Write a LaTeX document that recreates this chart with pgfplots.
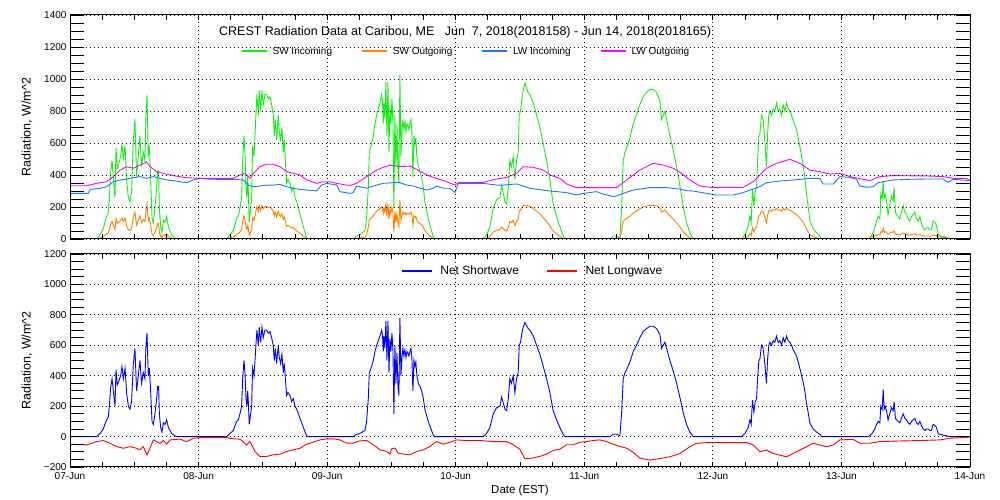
\documentclass[border=0pt]{standalone}
\usepackage{pgfplots}
\pgfplotsset{compat=1.18}
\usepackage{pgfplotstable}
\usepackage{fontspec}
\setmainfont{Liberation Sans}

\definecolor{cswin}{RGB}{20,240,20}
\definecolor{cswout}{RGB}{255,127,0}
\definecolor{clwin}{RGB}{25,120,255}
\definecolor{clwout}{RGB}{255,0,255}
\definecolor{cnetsw}{RGB}{0,0,255}
\definecolor{cnetlw}{RGB}{255,0,0}

\pgfplotstableread{
d net swin swout
0.000 0 0 0
0.207 0 0 0
0.233 20 26 6
0.259 50 65 15
0.280 100 129 29
0.298 130 168 38
0.306 200 258 58
0.316 320 413 93
0.327 380 490 110
0.337 300 387 87
0.350 200 258 58
0.358 440 568 128
0.368 340 439 99
0.378 360 464 104
0.394 400 516 116
0.404 460 593 133
0.415 380 490 110
0.428 450 581 131
0.441 280 361 81
0.454 200 258 58
0.466 180 232 52
0.479 230 297 67
0.492 470 606 136
0.505 580 748 168
0.518 300 387 87
0.531 400 516 116
0.544 500 645 145
0.557 350 452 102
0.570 420 542 122
0.583 380 490 110
0.591 600 774 174
0.599 680 900 220
0.609 400 516 116
0.617 450 581 131
0.627 300 387 87
0.638 100 129 29
0.648 80 103 23
0.661 150 194 44
0.674 250 323 73
0.682 330 426 96
0.689 330 426 96
0.695 150 194 44
0.705 60 77 17
0.715 30 39 9
0.726 90 116 26
0.739 80 103 23
0.752 110 142 32
0.765 60 77 17
0.778 40 52 12
0.790 20 26 6
0.816 5 6 1
0.829 0 0 0
1.218 0 0 0
1.244 20 26 6
1.270 40 52 12
1.296 100 129 29
1.309 110 142 32
1.322 150 194 44
1.335 200 258 58
1.343 380 490 110
1.353 500 645 145
1.361 420 542 122
1.369 250 323 73
1.376 200 258 58
1.382 300 387 87
1.387 230 297 67
1.394 80 103 23
1.405 150 194 44
1.413 200 258 58
1.420 450 581 131
1.431 400 516 116
1.439 500 645 145
1.446 600 774 174
1.454 700 903 203
1.465 600 774 174
1.472 720 929 209
1.483 620 800 180
1.493 720 929 209
1.503 650 839 189
1.516 700 903 203
1.529 700 903 203
1.542 680 877 197
1.555 690 890 200
1.568 650 839 189
1.581 600 774 174
1.589 500 645 145
1.597 580 748 168
1.607 480 619 139
1.620 600 774 174
1.628 520 671 151
1.638 480 619 139
1.648 540 697 157
1.659 420 542 122
1.667 480 619 139
1.675 380 490 110
1.685 270 348 78
1.695 290 374 84
1.711 270 348 78
1.724 230 297 67
1.737 250 323 73
1.750 200 258 58
1.763 180 232 52
1.789 120 155 35
1.815 60 77 17
1.840 5 6 1
1.853 0 0 0
2.203 0 0 0
2.229 15 19 4
2.255 20 26 6
2.294 40 52 12
2.307 100 129 29
2.320 250 323 73
2.328 420 542 122
2.346 460 593 133
2.359 500 645 145
2.372 560 722 162
2.385 600 774 174
2.398 630 813 183
2.411 660 851 191
2.424 700 903 203
2.431 660 851 191
2.437 560 722 162
2.442 660 851 191
2.449 580 748 168
2.457 760 980 220
2.465 500 645 145
2.473 760 980 220
2.481 420 542 122
2.488 640 826 186
2.496 560 722 162
2.504 680 877 197
2.512 560 722 162
2.519 150 194 44
2.527 600 774 174
2.535 350 452 102
2.543 550 710 160
2.551 330 426 96
2.558 270 348 78
2.566 780 1025 245
2.574 400 516 116
2.582 520 671 151
2.589 580 748 168
2.597 530 684 154
2.605 570 735 165
2.613 520 671 151
2.621 560 722 162
2.628 550 710 160
2.636 530 684 154
2.644 560 722 162
2.652 580 748 168
2.659 520 671 151
2.667 300 387 87
2.675 500 645 145
2.683 460 593 133
2.690 490 632 142
2.698 400 516 116
2.709 350 452 102
2.722 330 426 96
2.735 300 387 87
2.748 250 323 73
2.760 180 232 52
2.773 140 181 41
2.786 100 129 29
2.799 70 90 20
2.812 40 52 12
2.825 10 13 3
2.838 0 0 0
3.214 0 0 0
3.240 20 26 6
3.266 60 77 17
3.292 150 194 44
3.318 190 245 55
3.344 200 258 58
3.357 260 335 75
3.370 220 284 64
3.383 180 232 52
3.396 170 219 49
3.409 250 323 73
3.421 380 490 110
3.434 350 452 102
3.447 400 516 116
3.460 290 374 84
3.473 380 490 110
3.486 420 542 122
3.494 600 774 174
3.504 620 800 180
3.515 680 877 197
3.525 720 929 209
3.538 750 975 210
3.551 730 942 212
3.564 710 916 206
3.577 700 903 203
3.603 660 851 191
3.629 600 774 174
3.655 540 697 157
3.681 460 593 133
3.707 380 490 110
3.732 290 374 84
3.758 170 219 49
3.784 110 142 32
3.810 60 77 17
3.836 15 19 4
3.849 0 0 0
4.199 0 0 0
4.225 15 19 4
4.251 15 19 4
4.277 5 6 1
4.290 150 194 44
4.303 380 490 110
4.316 420 542 122
4.329 440 568 128
4.355 490 632 142
4.381 560 722 162
4.406 600 774 174
4.432 650 839 189
4.458 690 890 200
4.484 710 916 206
4.510 725 935 210
4.536 725 935 210
4.562 710 916 206
4.588 670 864 194
4.601 580 748 168
4.614 600 774 174
4.627 620 800 180
4.640 580 748 168
4.666 500 645 145
4.692 430 555 125
4.718 350 452 102
4.743 260 335 75
4.769 160 206 46
4.795 80 103 23
4.821 30 39 9
4.834 15 19 4
4.847 0 0 0
5.223 0 0 0
5.249 20 26 6
5.275 60 77 17
5.288 110 142 32
5.298 80 103 23
5.308 240 310 70
5.319 160 206 46
5.329 230 297 67
5.340 250 323 73
5.347 370 477 107
5.358 500 645 145
5.366 510 658 148
5.378 600 774 174
5.391 580 748 168
5.404 480 619 139
5.417 350 452 102
5.425 500 645 145
5.435 600 774 174
5.443 620 800 180
5.456 600 774 174
5.469 630 813 183
5.482 620 800 180
5.495 660 851 191
5.508 620 800 180
5.521 630 813 183
5.534 600 774 174
5.547 650 839 189
5.560 620 800 180
5.573 660 851 191
5.586 630 813 183
5.599 620 800 180
5.612 600 774 174
5.625 570 735 165
5.651 530 684 154
5.676 450 581 131
5.702 360 464 104
5.715 300 387 87
5.728 220 284 64
5.741 160 206 46
5.754 90 116 26
5.780 50 65 15
5.806 30 39 9
5.832 15 19 4
5.845 0 0 0
6.208 0 0 0
6.234 15 21 13
6.260 50 70 19
6.273 80 112 24
6.286 100 140 28
6.299 90 126 26
6.306 200 280 46
6.317 180 252 42
6.325 310 360 66
6.332 180 252 42
6.340 200 280 46
6.350 170 238 41
6.363 110 154 30
6.376 150 210 37
6.389 190 266 44
6.402 170 238 41
6.410 230 322 51
6.420 120 168 32
6.428 110 154 30
6.441 100 140 28
6.454 90 126 26
6.467 120 168 32
6.480 150 210 37
6.493 120 168 32
6.506 110 154 30
6.519 90 126 26
6.532 80 112 24
6.545 100 140 28
6.558 110 154 30
6.571 120 168 32
6.584 90 126 26
6.597 80 112 24
6.610 100 140 28
6.623 70 98 23
6.636 50 70 19
6.649 40 56 17
6.661 50 70 19
6.674 50 70 19
6.687 40 56 17
6.700 40 56 17
6.713 80 112 24
6.726 75 105 24
6.739 60 84 21
6.752 20 28 14
6.765 15 21 13
6.791 10 14 12
6.817 5 7 11
6.843 0 0 0
7.000 0 0 0
}\swdata

\pgfplotstableread{
d v
0.000 285
0.142 285
0.156 310
0.233 316
0.285 327
0.337 358
0.389 369
0.441 375
0.492 383
0.544 390
0.596 379
0.648 390
0.700 379
0.752 369
0.803 365
0.855 358
0.907 352
0.959 369
1.011 379
1.063 375
1.140 373
1.270 373
1.348 369
1.387 337
1.426 327
1.477 331
1.529 337
1.581 337
1.633 341
1.685 327
1.737 316
1.789 310
1.840 306
1.918 300
1.957 337
1.996 348
2.074 337
2.100 296
2.177 285
2.203 290
2.229 331
2.307 317
2.385 337
2.437 348
2.514 352
2.566 352
2.618 337
2.670 331
2.722 317
2.774 306
2.825 317
2.851 331
2.903 317
2.955 317
2.994 290
3.020 348
3.085 348
3.214 348
3.318 337
3.370 337
3.473 344
3.525 331
3.577 317
3.733 300
3.862 290
3.940 275
3.992 285
4.095 296
4.147 281
4.225 265
4.251 269
4.303 285
4.381 306
4.510 321
4.640 321
4.743 312
4.795 302
4.847 300
4.951 285
5.029 275
5.158 275
5.236 290
5.288 306
5.366 327
5.417 352
5.521 362
5.625 369
5.754 379
5.832 379
5.858 344
5.936 344
5.988 390
6.065 385
6.117 373
6.143 331
6.195 323
6.247 327
6.286 352
6.325 358
6.402 369
6.532 373
6.662 375
6.791 375
6.830 354
6.869 373
7.000 365
}\lwindata

\pgfplotstableread{
d v
0.000 333
0.129 333
0.207 348
0.285 358
0.337 390
0.389 431
0.441 452
0.492 442
0.544 462
0.596 483
0.622 452
0.674 421
0.726 410
0.803 396
0.907 383
1.011 379
1.270 379
1.322 400
1.361 410
1.400 379
1.426 410
1.477 452
1.529 467
1.581 467
1.633 452
1.685 421
1.737 410
1.789 400
1.840 369
1.918 348
1.970 358
2.022 358
2.074 348
2.151 337
2.177 335
2.229 348
2.307 390
2.385 431
2.437 448
2.488 462
2.566 452
2.644 456
2.696 435
2.774 400
2.851 379
2.929 358
2.994 337
3.020 352
3.214 354
3.318 375
3.396 385
3.473 410
3.525 452
3.603 448
3.681 431
3.733 400
3.810 379
3.862 344
3.940 321
4.251 321
4.329 369
4.432 431
4.536 473
4.614 462
4.692 442
4.743 418
4.821 369
4.899 331
5.003 321
5.236 323
5.314 358
5.417 442
5.495 473
5.599 498
5.677 473
5.754 431
5.832 421
5.910 406
5.988 410
6.091 385
6.221 365
6.299 390
6.402 396
6.662 394
6.791 390
6.869 379
6.972 379
7.000 365
}\lwoutdata

\pgfplotstableread{
d v
0.000 -50
0.130 -55
0.207 -33
0.259 -26
0.311 -44
0.363 -66
0.415 -77
0.466 -66
0.518 -77
0.544 -87
0.570 -66
0.599 -120
0.622 -77
0.648 -22
0.674 -33
0.700 -44
0.726 -26
0.752 -50
0.778 -22
0.855 -17
0.907 -33
0.959 -11
1.011 -7
1.218 -7
1.270 -15
1.322 -17
1.374 -55
1.400 -33
1.439 -98
1.477 -131
1.529 -131
1.581 -120
1.633 -116
1.685 -98
1.737 -87
1.789 -77
1.840 -50
1.892 -37
1.944 -22
1.996 -15
2.048 -15
2.100 -22
2.151 -43
2.203 -43
2.255 -28
2.307 -26
2.359 -54
2.411 -87
2.462 -98
2.488 -115
2.501 -80
2.527 -76
2.553 -109
2.592 -115
2.644 -120
2.696 -98
2.748 -87
2.799 -65
2.851 -33
2.903 -50
2.955 -37
3.007 -22
3.084 -26
3.188 -26
3.292 -33
3.396 -33
3.447 -54
3.499 -83
3.538 -146
3.603 -141
3.655 -130
3.707 -115
3.758 -91
3.810 -83
3.862 -54
3.914 -54
3.966 -37
4.018 -33
4.069 -26
4.121 -22
4.173 -33
4.225 -50
4.277 -65
4.329 -76
4.381 -104
4.432 -141
4.510 -155
4.588 -144
4.666 -133
4.743 -111
4.821 -67
4.873 -44
4.951 -40
5.262 -40
5.314 -55
5.366 -100
5.417 -89
5.469 -111
5.521 -122
5.573 -133
5.625 -111
5.676 -89
5.728 -67
5.780 -44
5.832 -55
5.884 -67
5.936 -55
5.988 -22
6.091 -18
6.143 -44
6.221 -44
6.299 -33
6.454 -29
6.610 -26
6.765 -22
6.843 -11
7.000 -4
}\netlwdata

\pgfplotsset{
  myax/.style={
    scale only axis,
    width=900pt,
    xmin=0, xmax=7,
    xtick={0,1,...,7},
    minor x tick num=3,
    minor y tick num=3,
    tick align=inside,
    major tick length=14pt,
    minor tick length=14pt,
    xtick style={/pgfplots/major tick length=5pt},
    minor x tick style={/pgfplots/minor tick length=5pt},
    axis line style={line width=1pt},
    every tick/.style={black, line width=0.9pt},
    grid=major,
    major grid style={black, line width=0.9pt, dash pattern=on 1.2pt off 2.8pt},
    axis on top,
    tick label style={font=\fontsize{10}{12}\selectfont},
    /pgf/number format/assume math mode=true,
    /pgf/number format/1000 sep={},
    ylabel style={font=\fontsize{12.5}{14}\selectfont, at={(axis description cs:-0.048,0.5)}, anchor=center},
    legend cell align=left,
    every axis plot/.append style={line width=0.9pt, mark=none},
    every axis title shift=0pt,
  }
}

\begin{document}
\begin{tikzpicture}
\path[use as bounding box] (0pt,0pt) rectangle (1000pt,500pt);
\begin{axis}[myax,
  at={(70pt,485pt)}, anchor=north west,
  height=224pt,
  ymin=0, ymax=1400,
  ytick={0,200,...,1400},
  xticklabels={},
  ylabel={Radiation, W/m\textasciicircum 2},
  title={CREST Radiation Data at Caribou, ME\ \ \ Jun\ \ 7, 2018(2018158) - Jun 14, 2018(2018165)},
  title style={font=\fontsize{12.5}{14}\selectfont, at={(axis description cs:0.439,0.925)}, anchor=center, yshift=0pt},
  legend columns=4,
  legend style={at={(axis description cs:0.44,0.838)}, anchor=center, draw=none, fill=none,
    font=\fontsize{10}{12}\selectfont, inner sep=0pt,
    /tikz/every odd column/.append style={column sep=3pt},
    /tikz/every even column/.append style={column sep=27pt}},
  legend image code/.code={\draw[#1, line width=1.8pt] (0pt,0pt) -- (25pt,0pt);},
]
\addplot[color=cswin] table[x=d, y=swin] {\swdata};
\addlegendentry{SW Incoming}
\addplot[color=cswout] table[x=d, y=swout] {\swdata};
\addlegendentry{SW Outgoing}
\addplot[color=clwin] table[x=d, y=v] {\lwindata};
\addlegendentry{LW Incoming}
\addplot[color=clwout] table[x=d, y=v] {\lwoutdata};
\addlegendentry{LW Outgoing}
\end{axis}

\begin{axis}[myax,
  at={(70pt,246pt)}, anchor=north west,
  height=213pt,
  ymin=-200, ymax=1200,
  ytick={-200,0,200,...,1200},
  yticklabels={−200,0,200,400,600,800,1000,1200},
  xticklabels={07-Jun,08-Jun,09-Jun,10-Jun,11-Jun,12-Jun,13-Jun,14-Jun},
  xticklabel style={yshift=-2pt},
  xlabel={Date (EST)},
  xlabel style={font=\fontsize{11.5}{13}\selectfont, yshift=1pt},
  ylabel={Radiation, W/m\textasciicircum 2},
  legend columns=2,
  legend style={at={(axis description cs:0.514,0.92)}, anchor=center, draw=none, fill=none,
    font=\fontsize{12}{14}\selectfont, inner sep=0pt,
    /tikz/every odd column/.append style={column sep=6pt},
    /tikz/every even column/.append style={column sep=25pt}},
  legend image code/.code={\draw[#1, line width=1.4pt] (0pt,0pt) -- (30pt,0pt);},
]
\addplot[color=cnetsw] table[x=d, y=net] {\swdata};
\addlegendentry{Net Shortwave}
\addplot[color=cnetlw] table[x=d, y=v] {\netlwdata};
\addlegendentry{Net Longwave}
\end{axis}
\end{tikzpicture}
\end{document}
